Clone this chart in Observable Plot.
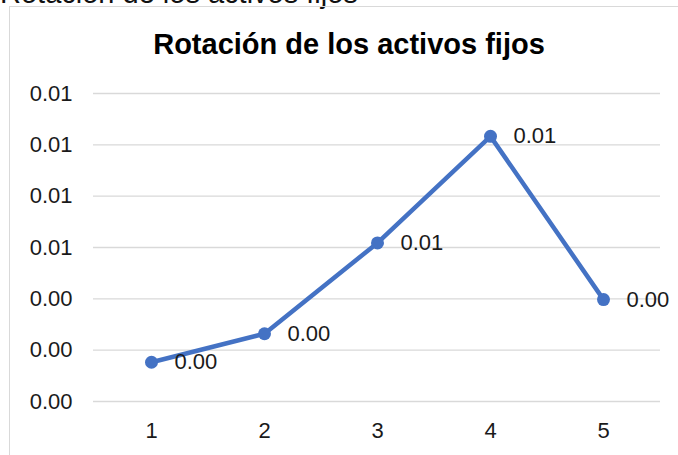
<!DOCTYPE html>
<html>
<head>
<meta charset="utf-8">
<script src="https://cdn.jsdelivr.net/npm/d3@7"></script>
<script src="https://cdn.jsdelivr.net/npm/@observablehq/plot@0.6"></script>
<style>
  html, body { margin: 0; padding: 0; background: #fff; }
  #wrap { position: relative; width: 678px; height: 455px; overflow: hidden; font-family: "Liberation Sans", Arial, sans-serif; }
  #cut { position: absolute; left: 0; top: -23px; font-size: 29px; line-height: 32px; color: #111; white-space: nowrap; }
  #frame { position: absolute; left: 9px; top: 6px; width: 700px; height: 500px; border-left: 1.5px solid #d9d9d9; border-top: 1.5px solid #d9d9d9; }
  #title { position: absolute; left: 0; width: 698px; top: 28px; text-align: center; font-size: 29px; line-height: 32px; font-weight: bold; color: #000; white-space: nowrap; }
  #chart { position: absolute; left: 0; top: 0; }
</style>
</head>
<body>
<div id="wrap">
  <div id="cut">Rotación de los activos fijos</div>
  <div id="frame"></div>
  <div id="title">Rotación de los activos fijos</div>
  <div id="chart"></div>
</div>
<script>
const chartTitle = "Rotación de los activos fijos";
const periods = [1, 2, 3, 4, 5];
const values = [0.00153, 0.00264, 0.00618, 0.01033, 0.00397];
const yTicks = [0, 0.002, 0.004, 0.006, 0.008, 0.010, 0.012];

const data = periods.map((p, i) => ({period: p, value: values[i]}));
const fmt = d3.format(".2f");
const blue = "#4472C4";

const plot = Plot.plot({
  width: 678,
  height: 455,
  marginLeft: 93,
  marginRight: 18,
  marginTop: 93,
  marginBottom: 54,
  style: {fontFamily: "Liberation Sans, Arial, sans-serif", fontSize: "22px", color: "#1a1a1a", background: "transparent", overflow: "visible"},
  x: {type: "point", domain: periods, padding: 0.5, label: null, tickSize: 0, tickPadding: 21},
  y: {domain: [0, 0.012], ticks: yTicks, tickFormat: fmt, label: null, tickSize: 0, tickPadding: 21},
  marks: [
    Plot.gridY(yTicks, {stroke: "#d9d9d9", strokeOpacity: 1, strokeWidth: 1.3}),
    Plot.line(data, {x: "period", y: "value", stroke: blue, strokeWidth: 4.5}),
    Plot.dot(data, {x: "period", y: "value", r: 6.5, fill: blue, stroke: "none"}),
    Plot.text(data, {x: "period", y: "value", text: d => fmt(d.value), dx: 23, textAnchor: "start", fontSize: 22, fill: "#1a1a1a"})
  ]
});
document.getElementById("chart").appendChild(plot);
</script>
</body>
</html>
